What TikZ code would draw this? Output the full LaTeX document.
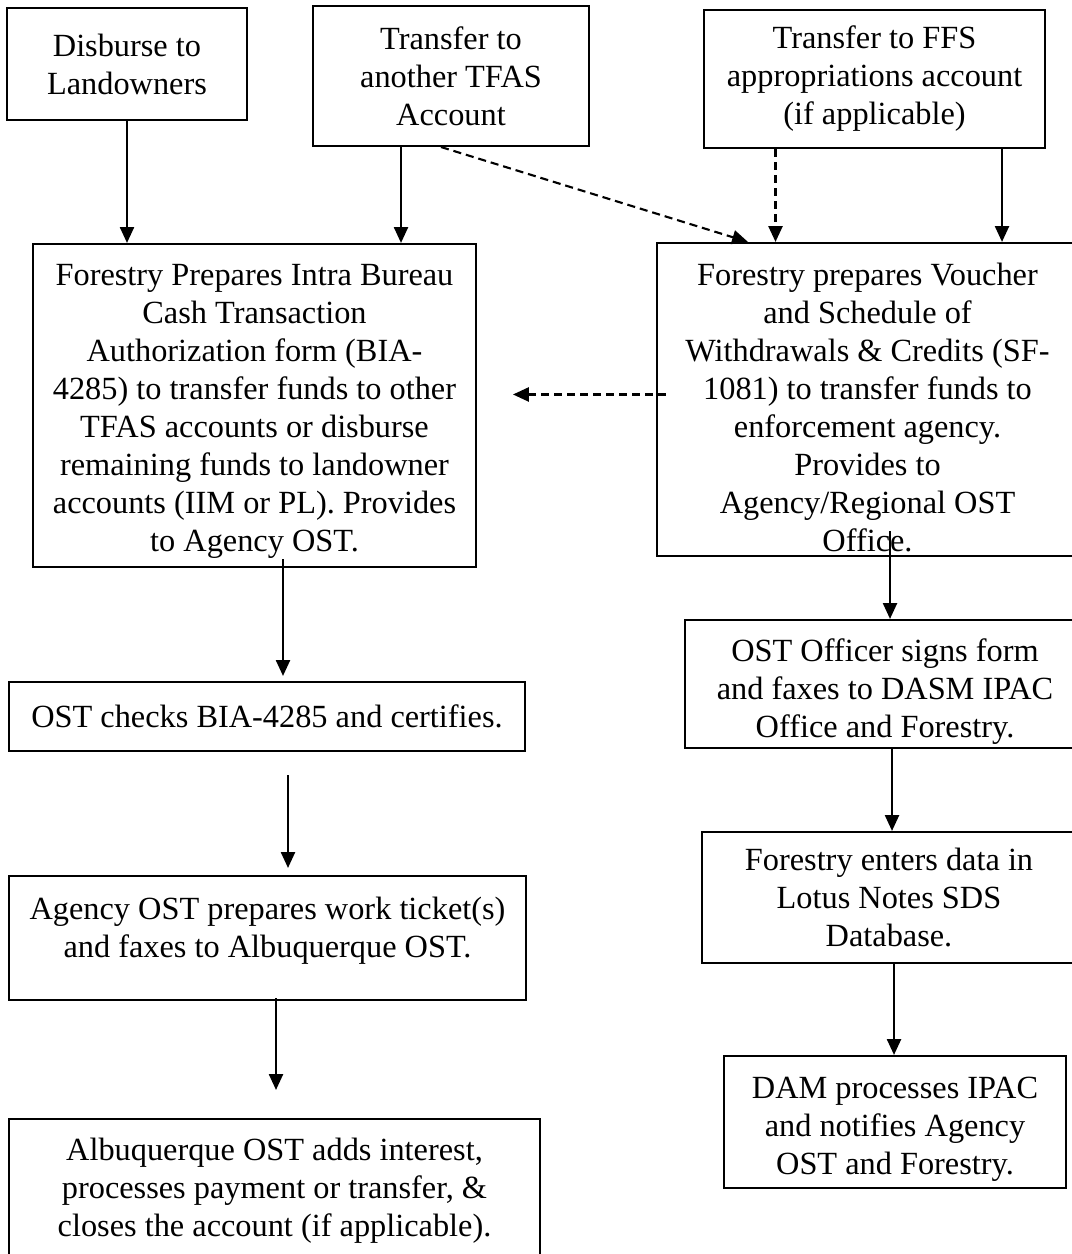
\documentclass[tikz,border=0pt]{standalone}
\usepackage{fontspec}
\setmainfont{Liberation Serif}
\usetikzlibrary{arrows.meta}

\begin{document}
\begin{tikzpicture}[
  box/.style={draw, line width=0.6pt, align=center, inner sep=1pt,
    font=\fontsize{9.2pt}{10.8pt}\selectfont},
  arr/.style={line width=0.55pt, -{Triangle[width=4pt,length=4.5pt]}},
  darr/.style={arr, line width=0.6pt, dash pattern=on 2.3pt off 1.4pt}]
\useasboundingbox (0,0) rectangle (10.71,12.54);

% sources
\node[box, minimum width=2.40cm, minimum height=1.12cm] (land) at (1.27,11.90) {Disburse to\\Landowners};
\node[box, minimum width=2.76cm, minimum height=1.40cm] (tfas) at (4.51,11.78) {Transfer to\\another TFAS\\Account};
\node[box, minimum width=3.41cm, minimum height=1.38cm] (ffs) at (8.745,11.75) {Transfer to FFS\\appropriations account\\(if applicable)};

% forms
\node[box, minimum width=4.43cm, minimum height=3.23cm, text height=85.1pt] (ibct) at (2.545,8.485) {Forestry Prepares Intra Bureau\\Cash Transaction\\Authorization form (BIA-\\4285) to transfer funds to other\\TFAS accounts or disburse\\remaining funds to landowner\\accounts (IIM or PL). Provides\\to Agency OST.};
\node[box, minimum width=4.21cm, minimum height=3.13cm, text height=86.5pt] (vouch) at (8.675,8.545) {Forestry prepares Voucher\\and Schedule of\\Withdrawals \& Credits (SF-\\1081) to transfer funds to\\enforcement agency.\\Provides to\\Agency/Regional OST\\Office.};

% left branch
\node[box, minimum width=5.16cm, minimum height=0.69cm] (check) at (2.67,5.375) {OST checks BIA-4285 and certifies.};
\node[box, minimum width=5.17cm, minimum height=1.24cm, text depth=6pt] (ticket) at (2.675,3.16) {Agency OST prepares work ticket(s)\\and faxes to Albuquerque OST.};
\node[box, minimum width=5.31cm, minimum height=1.43cm] (abq) at (2.745,0.635) {Albuquerque OST adds interest,\\processes payment or transfer, \&\\closes the account (if applicable).};

% right branch
\node[box, minimum width=4.00cm, minimum height=1.28cm, text height=32.2pt] (sign) at (8.85,5.70) {OST Officer signs form\\and faxes to DASM IPAC\\Office and Forestry.};
\node[box, minimum width=3.74cm, minimum height=1.31cm] (lotus) at (8.89,3.565) {Forestry enters data in\\Lotus Notes SDS\\Database.};
\node[box, minimum width=3.42cm, minimum height=1.32cm, text height=31.8pt] (dam) at (8.95,1.32) {DAM processes IPAC\\and notifies Agency\\OST and Forestry.};

% arrows
\draw[arr] (land) -- (land |- ibct.north);
\draw[arr] ([xshift=-0.5cm]tfas.south) -- ([xshift=-0.5cm]tfas.south |- ibct.north);
\draw[darr] ([xshift=-0.1cm]tfas.south) -- ([xshift=0.92cm]vouch.north west);
\draw[darr] ([xshift=-0.99cm]ffs.south) -- ([xshift=-0.99cm]ffs.south |- vouch.north);
\draw[arr] ([xshift=1.275cm]ffs.south) -- ([xshift=1.275cm]ffs.south |- vouch.north);

\coordinate (dtip) at (5.13,8.595);
\draw[darr] ([xshift=0.1cm]vouch.west |- dtip) -- (dtip);

\draw[arr] ([shift={(0.285,0.09)}]ibct.south) -- ([xshift=0.285cm,yshift=0.05cm]ibct.south |- check.north);
\draw[arr] ([shift={(0.21,-0.23)}]check.south) -- ([shift={(0.21,0.07)}]check.south |- ticket.north);
\draw[arr] ([shift={(0.085,0.03)}]ticket.south) -- ([shift={(0.085,0.28)}]ticket.south |- abq.north);

\draw[arr] ([shift={(0.225,0.26)}]vouch.south) -- ([xshift=0.225cm]vouch.south |- sign.north);
\draw[arr] ([xshift=0.07cm]sign.south) -- ([xshift=0.07cm]sign.south |- lotus.north);
\draw[arr] ([xshift=0.05cm]lotus.south) -- ([xshift=0.05cm]lotus.south |- dam.north);
\end{tikzpicture}
\end{document}
